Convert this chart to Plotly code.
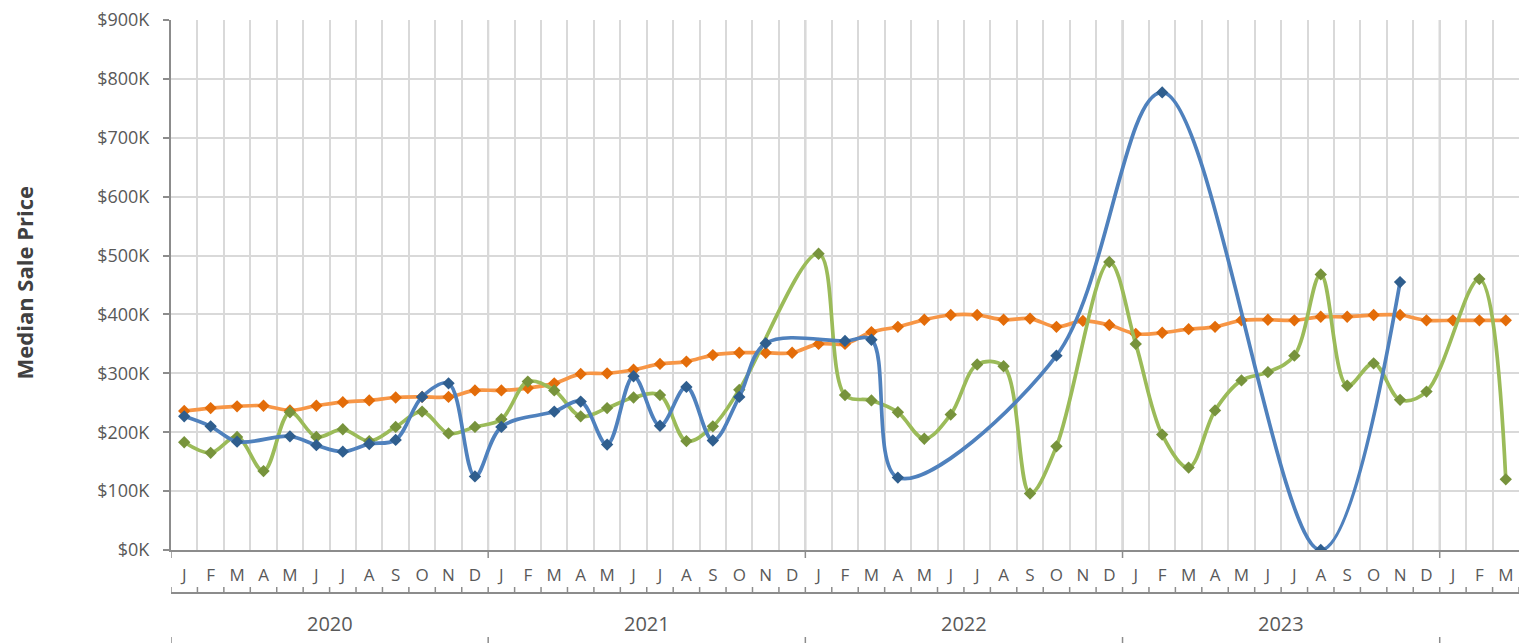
import plotly.graph_objects as go

# ---------------- data ----------------
month_letters = ["J", "F", "M", "A", "M", "J", "J", "A", "S", "O", "N", "D"]
years = [2020, 2021, 2022, 2023, 2024]
months_in_year = [12, 12, 12, 12, 3]
year_labels = ["2020", "2021", "2022", "2023", ""]

periods = []
tick_text = []
for yr, n in zip(years, months_in_year):
    for m in range(n):
        periods.append(f"{yr}-{m + 1:02d}")
        tick_text.append(month_letters[m])

# median sale price, $K (None = no sales that month)
blue_values = [
    227, 210, 184, None, 193, 178, 167, 180, 187, 260, 283, 125,
    209, None, 235, 252, 179, 295, 211, 277, 186, 260, 351, None,
    None, 355, 357, 123, None, None, None, None, None, 330, None, None,
    None, 777, None, None, None, None, None, 0, None, None, 455, None,
    None, None, None,
]
orange_values = [
    236, 241, 244, 245, 237, 245, 251, 254, 259, 260, 260, 271,
    271, 275, 283, 299, 300, 306, 316, 320, 331, 335, 335, 335,
    350, 350, 370, 379, 391, 399, 399, 391, 393, 379, 389, 382,
    367, 369, 375, 379, 390, 391, 390, 396, 396, 399, 399, 390,
    390, 390, 390,
]
green_values = [
    183, 165, 192, 134, 234, 192, 205, 185, 209, 235, 198, 209,
    222, 286, 271, 227, 241, 259, 263, 185, 210, 272, None, None,
    503, 263, 254, 234, 189, 230, 315, 312, 96, 176, None, 489,
    350, 196, 140, 237, 288, 302, 330, 468, 279, 317, 255, 269,
    None, 460, 120,
]

# ---------------- style ----------------
FONT = "Open Sans"
TXT = "#595959"
AX = "#8c8c8c"
GRID = "#d9d9d9"
GRID_MAJOR = "#bfbfbf"

series = [
    ("Orange", orange_values, "#f79646", "#e36c09"),
    ("Green", green_values, "#9bbb59", "#77933c"),
    ("Blue", blue_values, "#4f81bd", "#2f5e8e"),
]

fig = go.Figure()
for name, vals, lc, mc in series:
    fig.add_trace(go.Scatter(
        x=periods, y=vals, name=name, mode="lines+markers",
        connectgaps=True,
        line=dict(color=lc, width=3.7, shape="spline", smoothing=1),
        marker=dict(symbol="diamond", size=9.5, color=mc),
        hoverinfo="x+y",
    ))

n = len(periods)
shapes = []
start = 0
year_bounds = [-0.5]
for cnt in months_in_year:
    start += cnt
    year_bounds.append(start - 0.5)
# darker year gridlines inside plot
for b in year_bounds[1:-1]:
    shapes.append(dict(type="line", xref="x", yref="paper", x0=b, x1=b, y0=0, y1=1,
                       line=dict(color=GRID_MAJOR, width=2), layer="below"))

PLOT_TOP, PLOT_BOTTOM = 20, 550


def py(px):
    # screen pixel row -> paper coordinate
    return (PLOT_BOTTOM - px) / float(PLOT_BOTTOM - PLOT_TOP)


# main-axis ticks at year boundaries
for b in year_bounds[:-1]:
    shapes.append(dict(type="line", xref="x", yref="paper", x0=b, x1=b, y0=py(550), y1=py(558),
                       line=dict(color=AX, width=1.5)))
# lower separator line + month boundary ticks
shapes.append(dict(type="line", xref="x", yref="paper", x0=-0.5, x1=n - 0.5, y0=py(593), y1=py(593),
                   line=dict(color=AX, width=2)))
for k in range(n + 1):
    shapes.append(dict(type="line", xref="x", yref="paper", x0=k - 0.5, x1=k - 0.5,
                       y0=py(593), y1=py(587), line=dict(color=AX, width=1.5)))
# bottom year ticks
for b in year_bounds[:-1]:
    shapes.append(dict(type="line", xref="x", yref="paper", x0=b, x1=b, y0=py(637), y1=py(645),
                       line=dict(color=AX, width=1.5)))

annotations = []
s = 0
for lab, cnt in zip(year_labels, months_in_year):
    if lab:
        annotations.append(dict(text=lab, xref="x", yref="paper", x=s + (cnt - 1) / 2, y=py(623),
                                showarrow=False, xanchor="center", yanchor="middle",
                                font=dict(family=FONT, size=20, color=TXT)))
    s += cnt
annotations.append(dict(text="<b>Median Sale Price</b>", xref="paper", yref="paper",
                        x=(23.5 - 171) / 1348, y=py(283), textangle=-90, showarrow=False,
                        xanchor="center", yanchor="middle", borderpad=0,
                        font=dict(family=FONT, size=22, color="#404040")))

# page body has an 8px margin: figure 1527x635 placed at (8,8)
fig.update_layout(
    width=1527, height=635,
    margin=dict(l=163, r=16, t=PLOT_TOP - 8, b=635 + 8 - PLOT_BOTTOM, autoexpand=False),
    paper_bgcolor="white", plot_bgcolor="white",
    showlegend=False,
    font=dict(family=FONT, color=TXT),
    shapes=shapes,
    annotations=annotations,
    xaxis=dict(
        type="category", categoryorder="array", categoryarray=periods,
        range=[-0.5, n - 0.5], automargin=False,
        tickmode="array", tickvals=periods, ticktext=tick_text,
        tickson="boundaries", ticks="", ticklabelstandoff=9,
        tickfont=dict(family=FONT, size=17, color=TXT),
        showgrid=True, gridcolor=GRID, gridwidth=2,
        showline=True, linecolor=AX, linewidth=2,
        zeroline=False,
    ),
    yaxis=dict(
        range=[0, 900], tick0=0, dtick=100, automargin=False,
        tickprefix="$", ticksuffix="K",
        ticks="outside", ticklen=6, tickcolor=AX, tickwidth=1.5,
        ticklabelstandoff=10, ticklabeloverflow="allow",
        tickfont=dict(family=FONT, size=18, color=TXT),
        showgrid=True, gridcolor=GRID, gridwidth=2,
        showline=True, linecolor=AX, linewidth=2,
        zeroline=False,
    ),
)

fig.write_html("out.html")
